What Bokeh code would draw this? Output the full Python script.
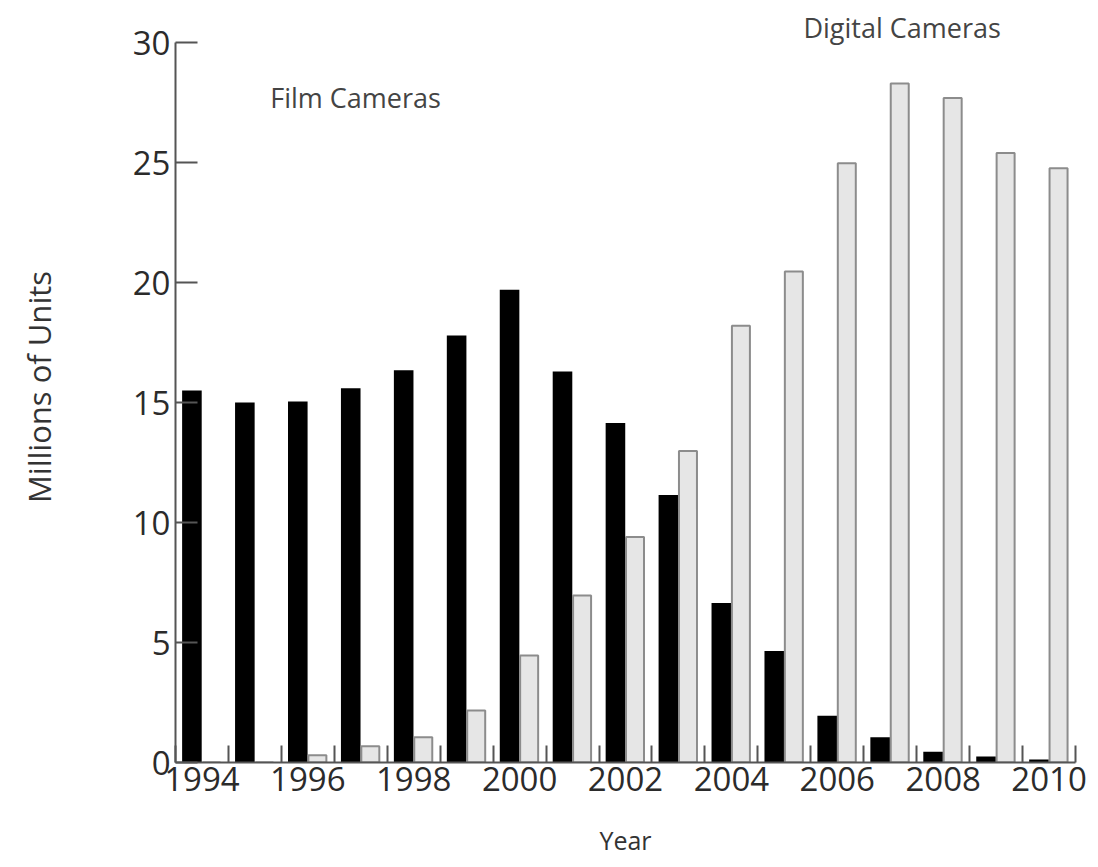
from bokeh.plotting import figure
from bokeh.models import Range1d, FixedTicker, Label, ColumnDataSource
from bokeh.transform import dodge
from bokeh.embed import file_html
from bokeh.resources import INLINE

years = list(range(1994, 2011))
film = [15.5, 15.0, 15.05, 15.6, 16.35, 17.8, 19.7, 16.3, 14.15, 11.15, 6.65, 4.65, 1.95, 1.05, 0.45, 0.25, 0.12]
digital = [0.0, 0.0, 0.3, 0.68, 1.05, 2.17, 4.46, 6.96, 9.4, 12.98, 18.2, 20.46, 24.98, 28.3, 27.7, 25.4, 24.77]
x_tick_years = list(range(1994, 2011, 2))
y_ticks = [0, 5, 10, 15, 20, 25, 30]
boundaries = [y + 0.5 for y in range(1993, 2011)]

src = ColumnDataSource(dict(year=years, film=film, digital=digital))

FONT = "Open Sans"
TXT = "#2b2b2b"
AX = "#555555"

p = figure(width=1090, height=859, output_backend="svg", toolbar_location=None,
           x_range=Range1d(1993.5, 2010.5), y_range=Range1d(0, 31.3),
           min_border_left=175, min_border_right=15, min_border_top=11, min_border_bottom=97)
p.outline_line_color = None
p.grid.visible = False
p.background_fill_color = "white"
p.border_fill_color = "white"

p.vbar(x=dodge("year", -0.19, range=p.x_range), top="film", width=0.37, bottom=0,
       source=src, fill_color="black", line_color=None)
p.vbar(x=dodge("year", 0.18, range=p.x_range), top="digital", width=0.34, bottom=0,
       source=src, fill_color="#e6e6e6", line_color="#8c8c8c", line_width=2)

xa = p.xaxis[0]
xa.ticker = FixedTicker(ticks=x_tick_years, minor_ticks=boundaries)
xa.major_tick_in = 0
xa.major_tick_out = 0
xa.minor_tick_in = 17
xa.minor_tick_out = 0
xa.minor_tick_line_color = AX
xa.minor_tick_line_width = 2
xa.axis_line_color = AX
xa.axis_line_width = 2
xa.major_label_text_font = FONT
xa.major_label_text_font_size = "33px"
xa.major_label_text_color = TXT
xa.major_label_standoff = 4
xa.axis_label = "Year"
xa.axis_label_text_font = FONT
xa.axis_label_text_font_style = "normal"
xa.axis_label_text_font_size = "25px"
xa.axis_label_text_color = "#333333"
xa.axis_label_standoff = 29

ya = p.yaxis[0]
ya.ticker = FixedTicker(ticks=y_ticks)
ya.bounds = (0, 30)
ya.major_tick_in = 22
ya.major_tick_out = 0
ya.minor_tick_in = 0
ya.minor_tick_out = 0
ya.major_tick_line_color = AX
ya.major_tick_line_width = 2
ya.axis_line_color = AX
ya.axis_line_width = 2
ya.major_label_text_font = FONT
ya.major_label_text_font_size = "33px"
ya.major_label_text_color = TXT
ya.major_label_standoff = 5
ya.axis_label = "Millions of Units"
ya.axis_label_text_font = FONT
ya.axis_label_text_font_style = "normal"
ya.axis_label_text_font_size = "31px"
ya.axis_label_text_color = "#333333"
ya.axis_label_standoff = 70

p.add_layout(Label(x=1995.29, y=27.7, text="Film Cameras", text_font=FONT,
                   text_font_size="27px", text_color="#444444", text_baseline="middle"))
p.add_layout(Label(x=2005.36, y=30.62, text="Digital Cameras", text_font=FONT,
                   text_font_size="27px", text_color="#444444", text_baseline="middle"))

open("out.html", "w").write(file_html(p, INLINE))
